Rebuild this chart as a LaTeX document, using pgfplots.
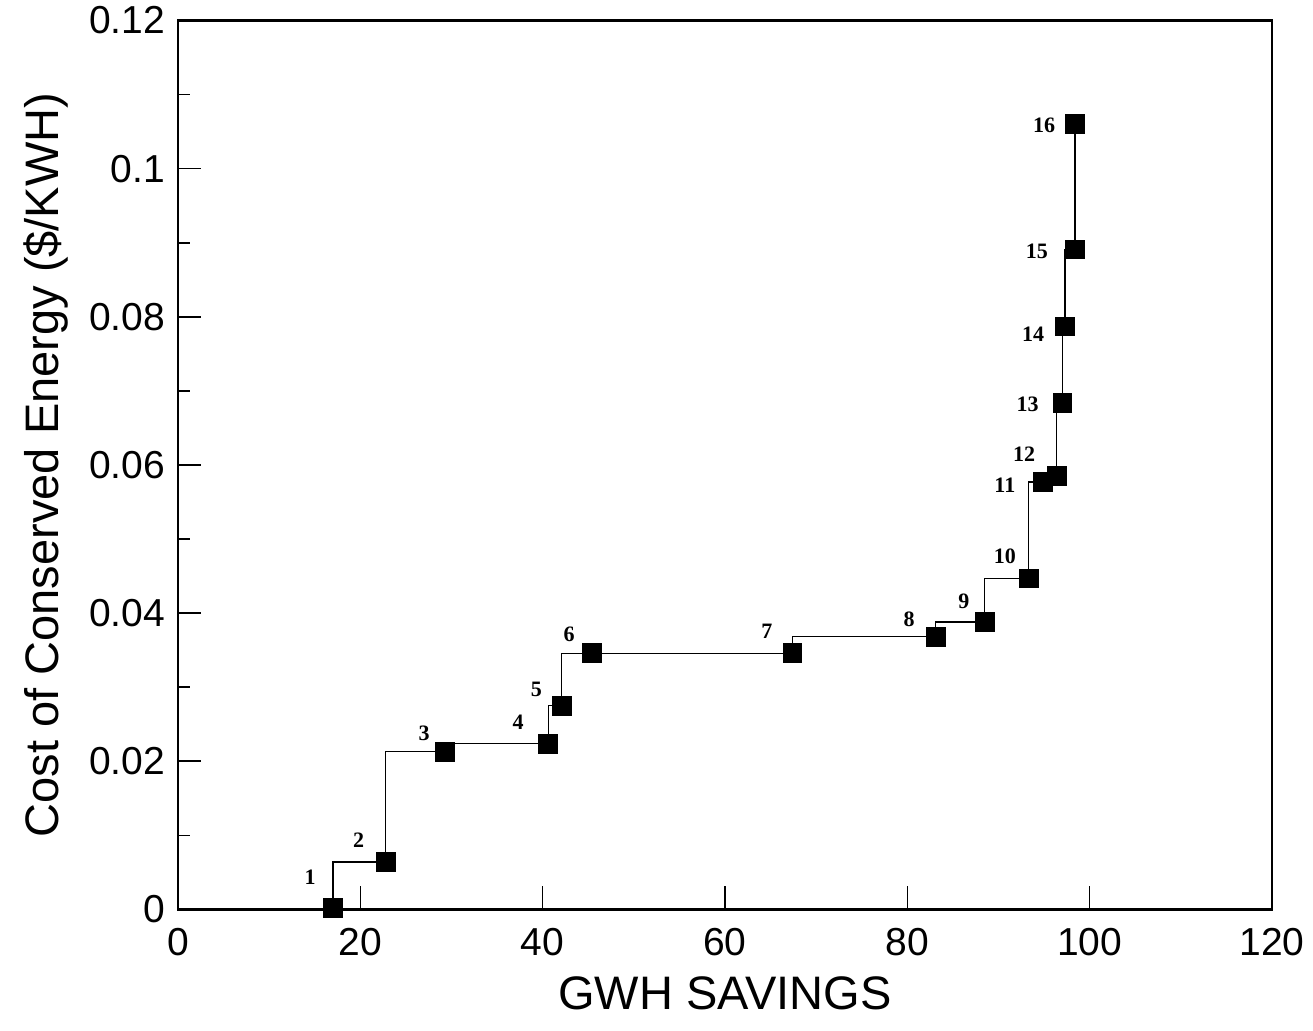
\documentclass[border=0pt]{standalone}
\usepackage{fontspec}
\setmainfont{Liberation Serif}
\setsansfont{Liberation Sans}
\usepackage{pgfplots}
\pgfplotsset{compat=1.18}
\pgfplotstableread{
x y
17.0 0.0002
22.8 0.0064
29.3 0.0213
40.6 0.0224
42.1 0.0275
45.4 0.0346
67.4 0.0346
83.1 0.0368
88.5 0.0388
93.3 0.0447
94.9 0.0577
96.4 0.0585
97.0 0.0684
97.3 0.0787
98.4 0.0891
98.4 0.1060
}\ccedata
\pgfplotstableread{
x y label
14.5 0.0044 1
19.8 0.0093 2
27.0 0.0238 3
37.3 0.0253 4
39.3 0.0297 5
42.9 0.0371 6
64.6 0.0375 7
80.2 0.0392 8
86.2 0.0416 9
90.7 0.0477 10
90.7 0.0573 11
92.8 0.0614 12
93.2 0.0682 13
93.8 0.0777 14
94.2 0.0889 15
95.0 0.1059 16
}\ccelabels
\begin{document}
\begin{tikzpicture}
\begin{axis}[
  scale only axis, width=547pt, height=444.5pt,
  xmin=0, xmax=120, ymin=0, ymax=0.12,
  xtick={0,20,40,60,80,100,120},
  ytick={0,0.02,0.04,0.06,0.08,0.1,0.12},
  minor ytick={0.01,0.03,0.05,0.07,0.09,0.11},
  scaled y ticks=false,
  yticklabel style={/pgf/number format/fixed, /pgf/number format/precision=2, xshift=-3pt},
  xticklabel style={yshift=-6pt},
  /pgf/number format/assume math mode=true,
  xtick pos=bottom, ytick pos=left,
  tick align=inside,
  major tick length=11.5pt, minor tick length=6pt,
  every tick/.style={black, line width=0.8pt},
  axis line style={line width=1.2pt},
  tick label style={font=\sffamily\fontsize{19.5}{20}\selectfont, black},
  label style={font=\sffamily\fontsize{23.5}{26}\selectfont, black},
  xlabel={GWH SAVINGS},
  ylabel={Cost of Conserved Energy (\$/KWH)},
  xlabel style={at={(axis description cs:0.5,0)}, anchor=base, yshift=-50pt},
  ylabel style={at={(axis description cs:0,0.5)}, anchor=base, yshift=59.5pt},
  clip=false,
]
\addplot[black, line width=0.6pt, const plot mark right, mark=square*, mark size=4.7pt,
  mark options={solid, fill=black, line width=0.4pt}] table[x=x, y=y] {\ccedata};
\addplot[draw=none, mark=none, nodes near coords, point meta=explicit symbolic,
  every node near coord/.append style={anchor=center, inner sep=0pt,
    font=\rmfamily\bfseries\fontsize{11}{12}\selectfont, black}]
  table[x=x, y=y, meta=label] {\ccelabels};
\end{axis}
\path (current axis.south west) ++(-89pt,-60.5pt) rectangle ++(656.5pt,513.5pt);
\end{tikzpicture}
\end{document}
